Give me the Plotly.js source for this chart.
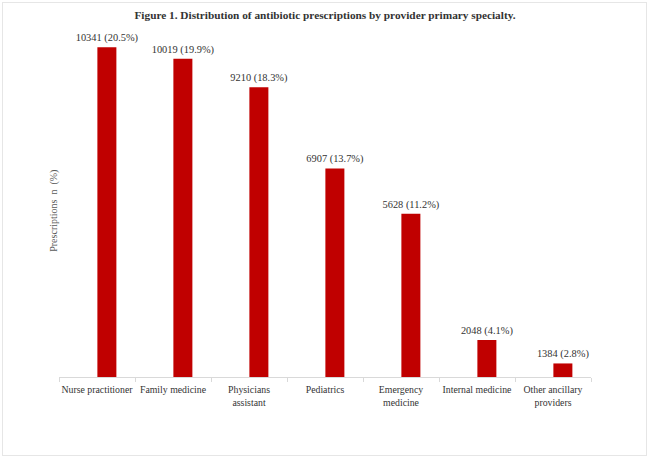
<!DOCTYPE html>
<html>
<head>
<meta charset="utf-8">
<script src="https://cdn.plot.ly/plotly-3.0.1.min.js"></script>
<style>
html,body{margin:0;padding:0;background:#fff;}
#wrap{position:absolute;left:2px;top:2px;width:645px;height:454px;border:1px solid #e6e6e6;box-sizing:border-box;}
#chart{position:absolute;left:0;top:0;width:650px;height:462px;}
</style>
</head>
<body>
<div id="wrap"></div>
<div id="chart"></div>
<script>
var categories = ["Nurse practitioner", "Family medicine", "Physicians<br>assistant", "Pediatrics", "Emergency<br>medicine", "Internal medicine", "Other ancillary<br>providers"];
var counts = [10341, 10019, 9210, 6907, 5628, 2048, 1384];
var percents = [20.5, 19.9, 18.3, 13.7, 11.2, 4.1, 2.8];
var axisStart = 1000;
var labels = counts.map(function(c, i){ return c + " (" + percents[i].toFixed(1) + "%)"; });
var SERIF = "'Liberation Serif', 'Times New Roman', Times, serif";

var trace = {
  type: "bar",
  x: categories,
  y: counts.map(function(v){ return v - axisStart; }),
  base: axisStart,
  width: 0.25,
  offset: 0.005,
  text: labels,
  textposition: "outside",
  constraintext: "none",
  cliponaxis: false,
  textfont: {family: SERIF, size: 10.4, color: "#333"},
  marker: {color: "#C00000"},
  hoverinfo: "none"
};

var layout = {
  width: 650, height: 462,
  paper_bgcolor: "rgba(0,0,0,0)",
  plot_bgcolor: "rgba(0,0,0,0)",
  margin: {l: 59, r: 59, t: 24, b: 85},
  showlegend: false,
  font: {family: SERIF},
  title: {
    text: "<b>Figure 1. Distribution of antibiotic prescriptions by provider primary specialty.</b>",
    font: {family: SERIF, size: 11.3, color: "#333"},
    x: 0.5, xanchor: "center", y: 0.967, yanchor: "middle"
  },
  xaxis: {
    type: "category",
    showgrid: false,
    showline: true, linecolor: "#d9d9d9", linewidth: 1,
    ticks: "outside", tickson: "boundaries", ticklen: 4, tickcolor: "#d9d9d9",
    tickangle: 0,
    ticklabelstandoff: 3,
    tickfont: {family: SERIF, size: 9.8, color: "#333"},
    zeroline: false
  },
  yaxis: {
    range: [1000, 11000],
    showgrid: false, showticklabels: false, ticks: "", zeroline: false, showline: false
  },
  annotations: [{
    text: "Prescriptions  n  (%)",
    textangle: -90,
    xref: "paper", yref: "paper",
    x: -0.01, y: 0.47, xanchor: "center", yanchor: "middle",
    showarrow: false,
    font: {family: SERIF, size: 10, color: "#595959"}
  }]
};
Plotly.newPlot("chart", [trace], layout, {displayModeBar: false, staticPlot: true});
</script>
</body>
</html>
